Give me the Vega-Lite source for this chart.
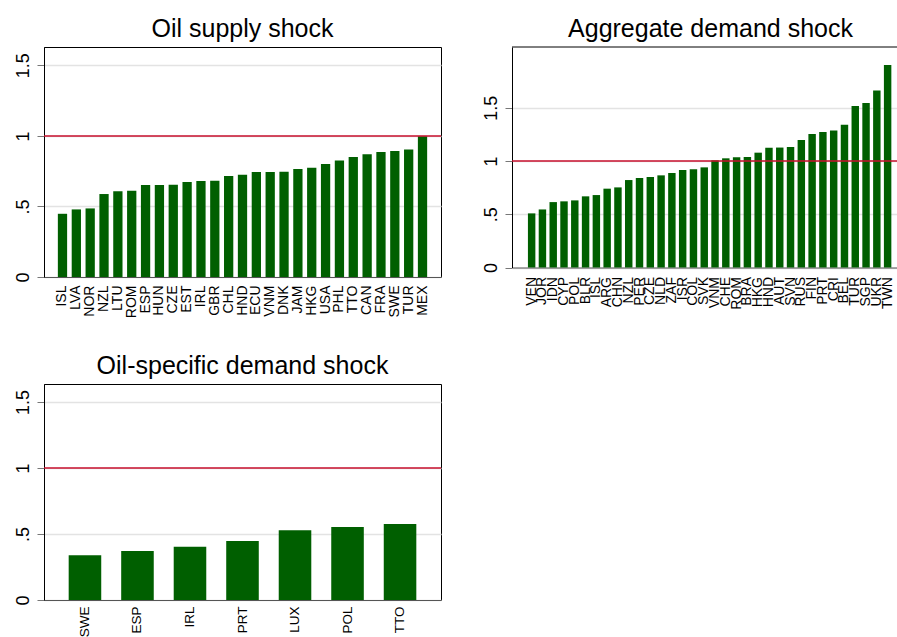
{
  "$schema": "https://vega.github.io/schema/vega-lite/v6.json",
  "background": "white",
  "padding": {"left": 13, "top": 16, "right": 0, "bottom": 0},
  "datasets": {
    "supply": [
      {"country": "ISL", "value": 0.448}, {"country": "LVA", "value": 0.479}, {"country": "NOR", "value": 0.486},
      {"country": "NZL", "value": 0.588}, {"country": "LTU", "value": 0.607}, {"country": "ROM", "value": 0.611},
      {"country": "ESP", "value": 0.652}, {"country": "HUN", "value": 0.652}, {"country": "CZE", "value": 0.653},
      {"country": "EST", "value": 0.673}, {"country": "IRL", "value": 0.680}, {"country": "GBR", "value": 0.682},
      {"country": "CHL", "value": 0.716}, {"country": "HND", "value": 0.725}, {"country": "ECU", "value": 0.744},
      {"country": "VNM", "value": 0.745}, {"country": "DNK", "value": 0.746}, {"country": "JAM", "value": 0.765},
      {"country": "HKG", "value": 0.775}, {"country": "USA", "value": 0.801}, {"country": "PHL", "value": 0.825},
      {"country": "TTO", "value": 0.851}, {"country": "CAN", "value": 0.870}, {"country": "FRA", "value": 0.886},
      {"country": "SWE", "value": 0.893}, {"country": "TUR", "value": 0.903}, {"country": "MEX", "value": 0.997}
    ],
    "aggregate": [
      {"country": "VEN", "value": 0.508}, {"country": "JOR", "value": 0.545}, {"country": "IDN", "value": 0.614},
      {"country": "CYP", "value": 0.621}, {"country": "POL", "value": 0.630}, {"country": "BLR", "value": 0.668},
      {"country": "ISL", "value": 0.680}, {"country": "ARG", "value": 0.740}, {"country": "CHN", "value": 0.752},
      {"country": "NZL", "value": 0.821}, {"country": "PER", "value": 0.840}, {"country": "CZE", "value": 0.850},
      {"country": "NLD", "value": 0.865}, {"country": "ZAF", "value": 0.887}, {"country": "ISR", "value": 0.915},
      {"country": "COL", "value": 0.922}, {"country": "SVK", "value": 0.940}, {"country": "VNM", "value": 1.006},
      {"country": "CHE", "value": 1.025}, {"country": "ROM", "value": 1.034}, {"country": "BRA", "value": 1.038},
      {"country": "HKG", "value": 1.078}, {"country": "HND", "value": 1.124}, {"country": "AUT", "value": 1.126},
      {"country": "SVN", "value": 1.132}, {"country": "RUS", "value": 1.197}, {"country": "FIN", "value": 1.254},
      {"country": "PRT", "value": 1.273}, {"country": "CRI", "value": 1.285}, {"country": "BEL", "value": 1.339},
      {"country": "TUR", "value": 1.517}, {"country": "SGP", "value": 1.545}, {"country": "UKR", "value": 1.661},
      {"country": "TWN", "value": 1.900}
    ],
    "specific": [
      {"country": "SWE", "value": 0.338}, {"country": "ESP", "value": 0.371}, {"country": "IRL", "value": 0.404},
      {"country": "PRT", "value": 0.447}, {"country": "LUX", "value": 0.528}, {"country": "POL", "value": 0.553},
      {"country": "TTO", "value": 0.576}
    ],
    "ref": [{"ref": 1}]
  },
  "config": {
    "font": "Liberation Sans",
    "view": {"stroke": "#000", "strokeWidth": 1},
    "title": {"fontSize": 25, "fontWeight": "normal", "baseline": "alphabetic", "offset": 5, "color": "#000", "font": "Liberation Sans", "frame": "group"},
    "axis": {"labelColor": "#000", "labelFont": "Liberation Sans", "title": null}
  },
  "vconcat": [
    {
      "hconcat": [
        {
          "width": 397, "height": 230,
          "title": "Oil supply shock",
          "layer": [
            {
              "data": {"name": "supply"},
              "mark": {"type": "bar", "color": "#005f00"},
              "encoding": {
                "x": {"field": "country", "type": "nominal", "sort": null, "scale": {"paddingInner": 0.33, "paddingOuter": 1.47},
                  "axis": {"labelAngle": -90, "labelFontSize": 14, "ticks": false, "labelPadding": 8, "domainColor": "#555", "labelAlign": "right", "labelBaseline": "middle", "grid": false, "title": null}},
                "y": {"field": "value", "type": "quantitative", "scale": {"domain": [0, 1.63], "nice": false},
                  "axis": {"values": [0, 0.5, 1, 1.5], "format": ".1~f", "labelExpr": "datum.value == 0.5 ? '.5' : datum.label", "labelAngle": -90, "labelAlign": "center", "labelBaseline": "bottom", "labelFontSize": 18, "labelPadding": 5, "tickSize": 7, "tickColor": "#777", "domainColor": "#000", "grid": true, "gridColor": "#e3e3e3", "gridWidth": 1.5, "title": null}}
              }
            },
            {
              "data": {"name": "ref"},
              "mark": {"type": "rule", "color": "#c8102e", "strokeWidth": 1.5},
              "encoding": {"y": {"field": "ref", "type": "quantitative"}}
            }
          ]
        },
        {
          "width": 385, "height": 220.5,
          "view": {"stroke": null},
          "title": {"text": "Aggregate demand shock", "dx": 6},
          "layer": [
            {
              "data": {"name": "aggregate"},
              "mark": {"type": "bar", "color": "#005f00"},
              "encoding": {
                "x": {"field": "country", "type": "nominal", "sort": null, "scale": {"paddingInner": 0.31, "paddingOuter": 1.255, "align": 0.738},
                  "axis": {"labelAngle": -90, "labelFontSize": 14, "ticks": false, "labelPadding": 9, "domainColor": "#555", "labelAlign": "right", "labelBaseline": "middle", "grid": false, "title": null}},
                "y": {"field": "value", "type": "quantitative", "scale": {"domain": [0, 2.07], "nice": false},
                  "axis": {"values": [0, 0.5, 1, 1.5], "format": ".1~f", "labelExpr": "datum.value == 0.5 ? '.5' : datum.label", "labelAngle": -90, "labelAlign": "center", "labelBaseline": "bottom", "labelFontSize": 18, "labelPadding": 5, "tickSize": 7, "tickColor": "#777", "domainColor": "#000", "grid": true, "gridColor": "#e3e3e3", "gridWidth": 1.5, "title": null}}
              }
            },
            {
              "data": {"name": "ref"},
              "mark": {"type": "rule", "color": "#c8102e", "strokeWidth": 1.5},
              "encoding": {"y": {"field": "ref", "type": "quantitative"}}
            },
            {
              "data": {"name": "ref"},
              "mark": {"type": "rule", "color": "#000", "strokeWidth": 1},
              "encoding": {"y": {"datum": 2.07, "type": "quantitative"}}
            }
          ]
        }
      ],
      "spacing": 39
    },
    {
      "width": 397, "height": 216,
      "title": "Oil-specific demand shock",
      "layer": [
        {
          "data": {"name": "specific"},
          "mark": {"type": "bar", "color": "#005f00"},
          "encoding": {
            "x": {"field": "country", "type": "nominal", "sort": null, "scale": {"paddingInner": 0.38, "paddingOuter": 0.47},
              "axis": {"labelAngle": -90, "labelFontSize": 13.5, "ticks": false, "labelPadding": 6, "domainColor": "#555", "labelAlign": "right", "labelBaseline": "middle", "grid": false, "title": null}},
            "y": {"field": "value", "type": "quantitative", "scale": {"domain": [0, 1.636], "nice": false},
              "axis": {"values": [0, 0.5, 1, 1.5], "format": ".1~f", "labelExpr": "datum.value == 0.5 ? '.5' : datum.label", "labelAngle": -90, "labelAlign": "center", "labelBaseline": "bottom", "labelFontSize": 18, "labelPadding": 5, "tickSize": 7, "tickColor": "#777", "domainColor": "#000", "grid": true, "gridColor": "#e3e3e3", "gridWidth": 1.5, "title": null}}
          }
        },
        {
          "data": {"name": "ref"},
          "mark": {"type": "rule", "color": "#c8102e", "strokeWidth": 1.5},
          "encoding": {"y": {"field": "ref", "type": "quantitative"}}
        }
      ]
    }
  ],
  "spacing": 34
}
